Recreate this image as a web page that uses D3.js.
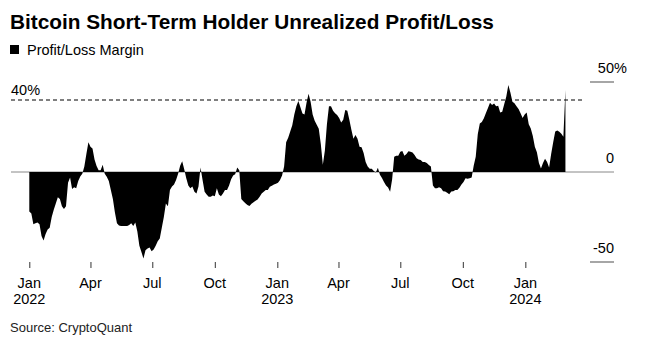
<!DOCTYPE html>
<html>
<head>
<meta charset="utf-8">
<script src="https://cdn.jsdelivr.net/npm/d3@7/dist/d3.min.js"></script>
<style>
  body { margin: 0; background: #fff; }
  svg { display: block; font-family: "Liberation Sans", Arial, sans-serif; }
</style>
</head>
<body>
<svg id="chart" width="645" height="338"></svg>
<script>
// daily series sampled every 3 days from Jan 1 2022
var startDate = '2022-01-01';
var stepDays = 3;
var margin = [
  -22, -23, -29, -28.5, -28, -29, -35.5, -38, -34.5, -32,
  -31, -25, -21, -17.5, -14, -15, -19, -20.5, -19, -6,
  -3, -9.5, -8.5, -9, -5, -2.5, -1, 3, 10, 16.5,
  14, 13, 7, 3.3, 1, 1, 4, -1, -2.6, -5,
  -10, -15, -22.5, -28.5, -29.7, -30, -30, -30, -30, -29.5,
  -28.5, -30, -28, -33, -41, -44.5, -48, -43.5, -42.5, -42,
  -44, -43, -41, -38.5, -37, -31, -25, -17.5, -19, -10,
  -8, -7, -4.5, -1, 3.5, 6, 1.5, -3.5, -7.5, -9,
  -8, -11, -12, -8, 2.5, -4.5, -11, -12.5, -13.7, -13.7,
  -13, -13.5, -9, -12.5, -13.5, -12, -10, -10, -7.5, -4,
  -2, -1.2, 2.5, 1, -15, -16.3, -17.4, -18.3, -18.9, -17.6,
  -16.8, -16, -15.3, -13.7, -12, -11, -10, -10, -8.2, -7.6,
  -7, -6.5, -6, -4.5, -2, 3, 16.5, 19, 22.5, 26,
  32, 36.5, 39.5, 36, 32.5, 32, 38.5, 43.5, 39, 32,
  28.5, 26.3, 24, 15.5, 4, 12, 26.5, 36.5, 36.5, 34,
  32.7, 31.6, 30, 27.5, 29, 34.5, 34, 29, 23.5, 18.5,
  20.5, 18.5, 14, 13.8, 10.6, 5.5, 3, 1.8, 1.8, 0.6,
  -0.3, 2.3, -1.5, -3.4, -5.6, -7.5, -8.6, -11, -4, 8.5,
  9, 9, 11.2, 11.6, 9, 10, 11.5, 11.3, 10.8, 9.5,
  7.7, 7, 6.6, 5.5, 5.5, 5, 3.9, 3, -7.5, -9,
  -9, -8.5, -9, -10.7, -10.9, -11.5, -12.3, -10.8, -10.7, -10,
  -10, -8.7, -7, -5.5, -3.5, -3.8, -3.5, -3, 3.5, 8.5,
  21, 27, 27.8, 29.8, 32.8, 35.5, 38.5, 37.2, 38, 36.5,
  36.8, 33, 33.5, 37.8, 42, 48.3, 44.2, 39, 38.2, 36.5,
  35, 32.6, 30, 32, 33, 26.5, 24.2, 20, 14, 11,
  5, 2, 5, 7.4, 5.5, 2.5, 10, 16.5, 22.5, 23,
  22.3, 21.2, 19.6, 45.6
];
var xTicks = ['2022-01-01', '2022-04-01', '2022-07-01', '2022-10-01', '2023-01-01',
              '2023-04-01', '2023-07-01', '2023-10-01', '2024-01-01'];
var yTicks = [50, 0, -50];
var refLevel = 40;

var parse = d3.timeParse('%Y-%m-%d');
var t0 = parse(startDate);
var series = margin.map(function (v, i) {
  return { date: d3.timeDay.offset(t0, i * stepDays), value: v };
});
var lastDate = series[series.length - 1].date;

var svg = d3.select('#chart');

var x = d3.scaleTime()
  .domain([t0, lastDate])
  .range([29.3, 29.3 + d3.timeDay.count(t0, lastDate) * 0.6795]);
var y = d3.scaleLinear().domain([-50, 50]).range([262, 82]);

var fs = 14.5;

// title + legend
svg.append('text')
  .attr('x', 10).attr('y', 29)
  .attr('font-size', 20.8).attr('font-weight', 'bold')
  .attr('fill', '#000')
  .text('Bitcoin Short-Term Holder Unrealized Profit/Loss');
svg.append('rect')
  .attr('x', 10).attr('y', 45).attr('width', 9).attr('height', 9)
  .attr('fill', '#000');
svg.append('text')
  .attr('x', 27).attr('y', 55)
  .attr('font-size', fs).attr('fill', '#000')
  .text('Profit/Loss Margin');

// zero baseline
svg.append('line')
  .attr('x1', 11).attr('x2', 614)
  .attr('y1', y(0)).attr('y2', y(0))
  .attr('stroke', '#888').attr('stroke-width', 1);

// area
var area = d3.area()
  .x(function (d) { return x(d.date); })
  .y0(y(0))
  .y1(function (d) { return y(d.value); });
svg.append('path')
  .datum(series)
  .attr('d', area)
  .attr('fill', '#000');

// right side gridline stubs
yTicks.filter(function (v) { return v !== 0; }).forEach(function (v) {
  svg.append('line')
    .attr('x1', 590).attr('x2', 614)
    .attr('y1', y(v)).attr('y2', y(v))
    .attr('stroke', '#888').attr('stroke-width', 1.5);
});
yTicks.forEach(function (v) {
  svg.append('text')
    .attr('x', 614).attr('y', y(v) - 9)
    .attr('font-size', fs).attr('fill', '#000')
    .attr('text-anchor', 'end')
    .text(v);
  if (v === 50) {
    svg.append('text')
      .attr('x', 614).attr('y', y(v) - 9)
      .attr('font-size', fs).attr('fill', '#000')
      .text('%');
  }
});

// 40% reference line
svg.append('line')
  .attr('x1', 11).attr('x2', 583)
  .attr('y1', y(refLevel)).attr('y2', y(refLevel))
  .attr('stroke', '#000').attr('stroke-width', 1.2)
  .attr('stroke-dasharray', '4,3');
svg.append('text')
  .attr('x', 11).attr('y', y(refLevel) - 5)
  .attr('font-size', fs).attr('fill', '#000')
  .text(refLevel + '%');

// x axis
var xAxis = d3.axisBottom(x)
  .tickValues(xTicks.map(parse))
  .tickSize(6)
  .tickFormat('');
var gx = svg.append('g')
  .attr('transform', 'translate(0,262)')
  .call(xAxis);
gx.select('.domain').remove();
gx.selectAll('.tick line').attr('stroke', '#333');

var fmtMonth = d3.timeFormat('%b');
var fmtYear = d3.timeFormat('%Y');
xTicks.map(parse).forEach(function (d) {
  svg.append('text')
    .attr('x', x(d)).attr('y', 287.5)
    .attr('font-size', fs).attr('text-anchor', 'middle').attr('fill', '#000')
    .text(fmtMonth(d));
  if (d.getMonth() === 0) {
    svg.append('text')
      .attr('x', x(d)).attr('y', 303.5)
      .attr('font-size', fs).attr('text-anchor', 'middle').attr('fill', '#000')
      .text(fmtYear(d));
  }
});

svg.append('text')
  .attr('x', 10).attr('y', 332)
  .attr('font-size', 13).attr('fill', '#222')
  .text('Source: CryptoQuant');
</script>
</body>
</html>
